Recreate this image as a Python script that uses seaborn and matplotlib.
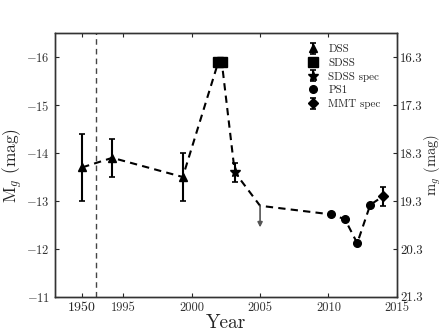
import matplotlib
matplotlib.use("Agg")
import matplotlib.pyplot as plt
import seaborn as sns
import numpy as np
import pandas as pd

sns.set_style("ticks")
plt.rcParams['font.family'] = ['cmr10', 'DejaVu Serif']
plt.rcParams['mathtext.fontset'] = 'cm'
plt.rcParams['axes.unicode_minus'] = False

# Data (x = plot year; the "1950" point is drawn at the break position)
dss_x = [1992.0, 1994.2, 1999.35]
dss_y = [-13.7, -13.9, -13.5]
dss_e = [0.7, 0.4, 0.5]
sdss_x = [2001.95, 2002.2]
sdss_y = [-15.9, -15.9]
spec_x = [2003.15]
spec_y = [-13.6]
spec_e = [0.2]
lim_x = [2005.0]
lim_y = [-12.9]
lim_len = [0.45]
ps1_x = [2010.2, 2011.2, 2012.1, 2013.05]
ps1_y = [-12.72, -12.62, -12.12, -12.92]
mmt_x = [2014.0]
mmt_y = [-13.1]
mmt_e = [0.2]

break_x = 1993.0
distmod = 32.3
xticks = [1992.0, 1995, 2000, 2005, 2010, 2015]
xticklabels = ['1950', '1995', '2000', '2005', '2010', '2015']
yticks = [-16, -15, -14, -13, -12, -11]
rticks = [16.3, 17.3, 18.3, 19.3, 20.3, 21.3]

fig = plt.figure(figsize=(4.42, 3.31), dpi=100)
ax = fig.add_axes([0.124, 0.103, 0.774, 0.797])

path = pd.DataFrame({
    'x': dss_x + sdss_x + spec_x + lim_x + ps1_x + mmt_x,
    'y': dss_y + sdss_y + spec_y + lim_y + ps1_y + mmt_y,
})
sns.lineplot(data=path, x='x', y='y', sort=False, ax=ax, color='black',
             linestyle=(0, (3.5, 2.5)), linewidth=1.5, zorder=2)

kw = dict(color='black', ls='none', capsize=2, elinewidth=1.5, capthick=1.2, zorder=3)
ax.errorbar(dss_x, dss_y, yerr=dss_e, marker='^', ms=6, label='DSS', **kw)
ax.errorbar(sdss_x, sdss_y, marker='s', ms=6.5, label='SDSS', **kw)
ax.errorbar(spec_x, spec_y, yerr=spec_e, marker='*', ms=7, label='SDSS spec', **kw)
ax.errorbar(ps1_x, ps1_y, marker='o', ms=5.5, label='PS1', **kw)
ax.errorbar(mmt_x, mmt_y, yerr=mmt_e, marker='D', ms=5, label='MMT spec', **kw)

for x, y, l in zip(lim_x, lim_y, lim_len):
    ax.annotate('', xy=(x, y + l), xytext=(x, y),
                arrowprops=dict(arrowstyle='-|>', color='#555555', lw=1.2,
                                mutation_scale=7, shrinkA=0, shrinkB=0))

ax.axvline(break_x, color='#444444', ls=(0, (4, 3)), lw=1.0, zorder=1)

ax.set_xlim(1990, 2015)
ax.set_ylim(-11, -16.5)
ax.set_xticks(xticks)
ax.set_xticklabels(xticklabels, fontsize=9)
ax.get_xticklabels()[0].set_fontsize(10)
ax.set_yticks(yticks)
ax.set_yticklabels([f'${v}$' for v in yticks], fontsize=9, color='#333333')
for lab in ax.get_xticklabels()[1:]:
    lab.set_color('#333333')
ax.tick_params(direction='in', top=True, length=3, width=0.8)
ax.set_xlabel('Year', fontsize=14, labelpad=0)
ax.set_ylabel(r'M$_g$ (mag)', fontsize=12.5)
ax.yaxis.set_label_coords(-0.088, 0.5)

ax2 = ax.twinx()
ax2.set_ylim(-11 + distmod, -16.5 + distmod)
ax2.set_yticks(rticks)
ax2.set_yticklabels([f'{v:.1f}' for v in rticks], fontsize=9.2)
ax2.tick_params(direction='in', length=3, width=0.8, pad=2.5)
ax2.set_ylabel(r'm$_g$ (mag)', fontsize=10.5)
ax2.yaxis.set_label_coords(1.075, 0.5)

for a in (ax, ax2):
    for s in a.spines.values():
        s.set_linewidth(1.0)
        s.set_color('#333333')

ax.legend(loc='upper right', frameon=False, fontsize=8, handlelength=1.2,
          labelspacing=0.35, borderaxespad=0.6, bbox_to_anchor=(0.985, 1.0))

fig.savefig('out.png', dpi=100)
